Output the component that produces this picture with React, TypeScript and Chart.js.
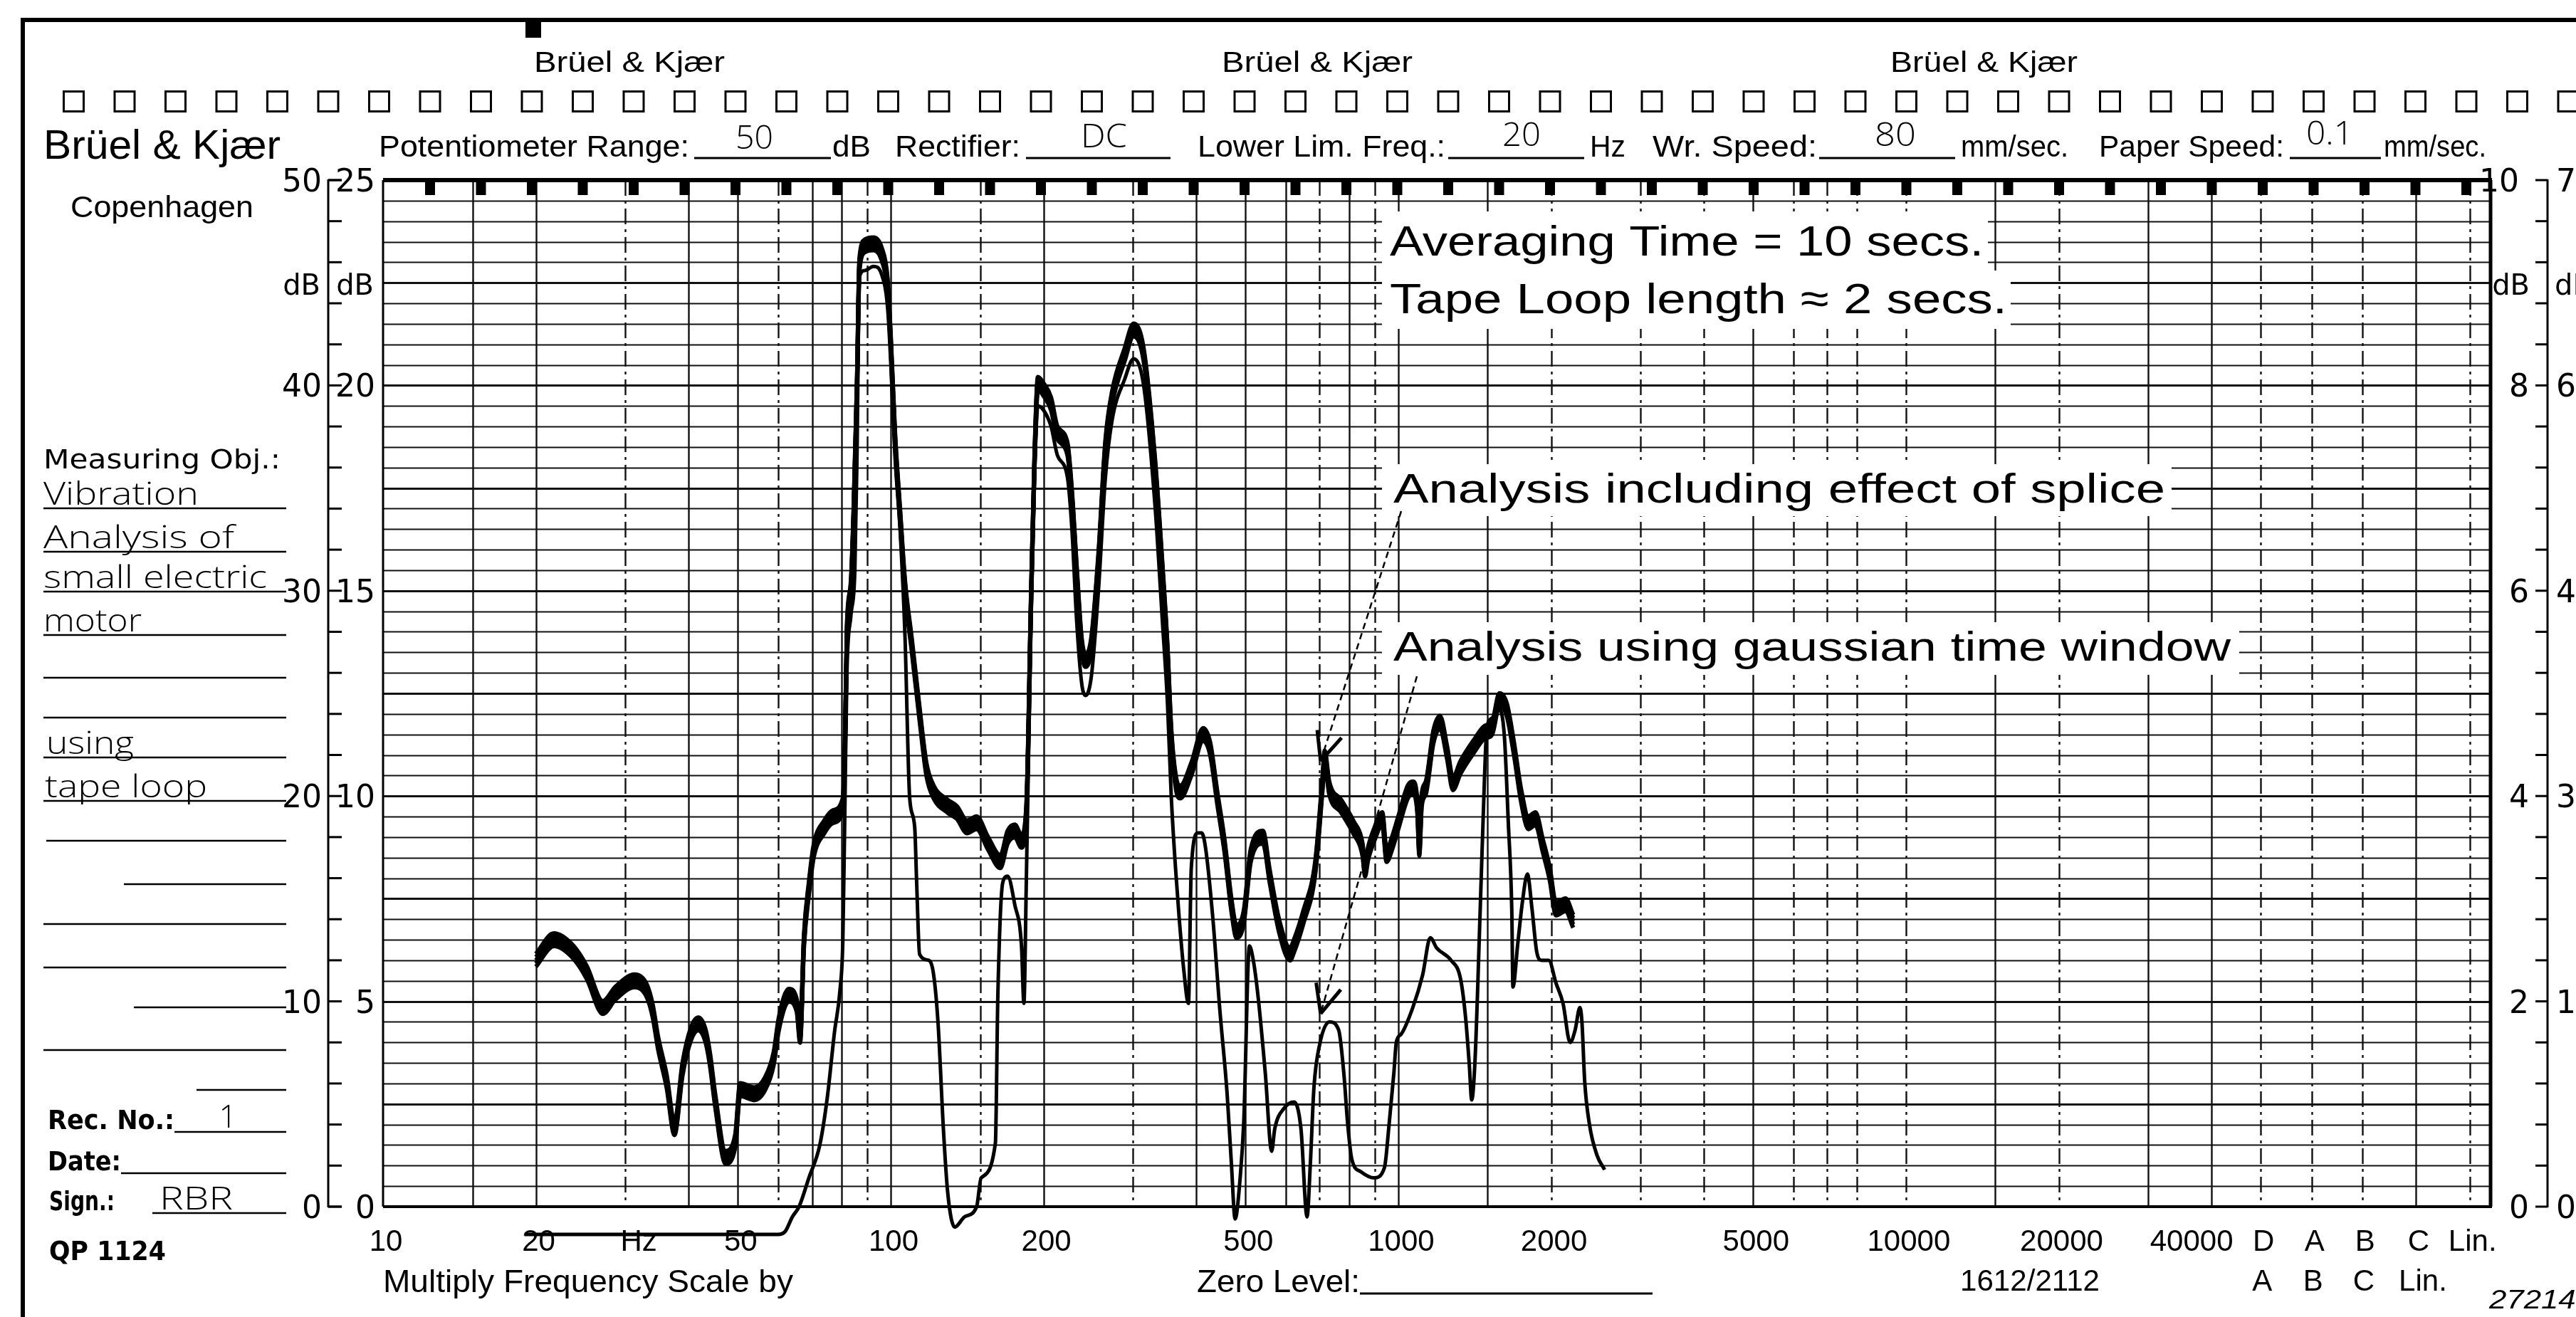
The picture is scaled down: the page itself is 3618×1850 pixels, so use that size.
import { useEffect, useRef } from 'react';
import { Chart, registerables } from 'chart.js';

Chart.register(...registerables);

const PAGE_W = 3618;
const PAGE_H = 1850;
const PLOT = { left: 538, top: 253, right: 3498, bottom: 1695 };

const FORM = '"Liberation Sans", Arial, sans-serif';
const ROUND = '"DejaVu Sans", "Liberation Sans", sans-serif';
const HAND = '"Open Sans", "DejaVu Sans", sans-serif';

// ---------- axes ----------
const X_MIN = 10;
const X_MAX = 141800;
const Y_MIN = 0;
const Y_MAX = 50;

const freqLabelValues = [10, 20, 50, 100, 200, 500, 1000, 2000, 5000, 10000, 20000, 40000];
const freqLabelText = ['10', '20', '50', '100', '200', '500', '1000', '2000', '5000', '10000', '20000', '40000'];
const weightingValues = [50000, 63000, 79250, 101000, 129000];
const weightingRow1 = ['D', 'A', 'B', 'C', 'Lin.'];
const weightingRow2 = ['A', 'B', 'C', 'Lin.'];
const gridFreqSolid = [15, 20, 40, 50, 70, 80, 100, 200, 400, 500, 600, 800, 1000, 1500, 5000, 15000, 30000, 40000, 101000];
const gridFreqDashed = [30, 60, 90, 150, 300, 700, 900, 2000, 3000, 4000, 6000, 7000, 8000, 10000, 20000, 50000, 63000, 79250, 129000];

const levelTicks = [0, 10, 20, 30, 40, 50];
const leftOuterLabels = ['0', '10', '20', '30', '40', '50'];
const leftInnerLabels = ['0', '5', '10', '15', '20', '25'];
const rightInnerLabels = ['0', '2', '4', '6', '8', '10'];
const rightOuterLabels = ['0', '15', '30', '45', '60', '75'];

// ---------- series: analysis including effect of splice ----------
const spliceFreq = [
  20, 21.7, 23.7, 25.2, 27.1, 28.7, 31.3, 33.1, 34.0, 34.8,
  36.2, 37.5, 38.9, 40.4, 41.8, 43.2, 44.1, 45.1, 47.3, 49.4,
  50.5, 53.9, 56.6, 58.8, 60.2, 63.0, 65.3, 66.3, 67.5, 69.0,
  70.5, 74.0, 77.0, 80.5, 81.3, 82.0, 83.5, 84.5, 85.8, 86.8,
  89.0, 92.5, 96.0, 98.6, 100, 102, 104.4, 106.7, 110, 114,
  117.6, 121.5, 129.5, 135, 141.4, 147.7, 155.5, 164.4, 170, 175.6,
  181, 185, 189, 192, 195, 200, 207, 213, 223, 227.5,
  232.5, 237.8, 242, 248.4, 256.6, 264.8, 273, 289, 301, 315,
  332, 343, 351, 357, 365, 372, 391, 412.6, 426, 440,
  455, 469, 480, 496, 512, 541, 558, 582, 612, 623,
  650, 686, 709, 716, 731, 772, 815, 850, 860, 872,
  896, 930, 948, 975, 1000, 1044, 1068, 1090, 1100, 1112,
  1133, 1173, 1208, 1248, 1281, 1326, 1416, 1478, 1530, 1582,
  1636, 1690, 1746, 1804, 1863, 1925, 1988, 2044, 2135, 2211,
];
const spliceDb = [
  12.0, 13.0, 12.4, 11.4, 9.7, 10.4, 11.0, 10.5, 9.5, 8.0,
  6.1, 3.8, 6.7, 8.4, 8.9, 8.3, 7.1, 5.2, 2.4, 3.2,
  5.7, 5.5, 6.0, 7.2, 8.9, 10.3, 9.8, 8.3, 13.0, 15.5,
  17.3, 18.5, 19.0, 19.6, 22.6, 28.0, 30.2, 33.6, 39.8, 45.9,
  46.8, 46.9, 46.4, 44.9, 42.2, 37.4, 33.6, 30.2, 27.4, 24.0,
  21.3, 20.2, 19.5, 19.2, 18.5, 18.7, 17.7, 16.8, 18.0, 18.3,
  17.8, 19.2, 29.5, 36.3, 40.1, 39.8, 39.1, 37.7, 36.9, 34.6,
  30.9, 27.4, 26.6, 27.4, 31.5, 37.0, 39.4, 41.5, 42.7, 41.5,
  36.0, 31.0, 27.0, 23.0, 20.6, 20.2, 21.3, 23.0, 22.3, 19.9,
  17.5, 14.7, 13.4, 14.1, 17.1, 18.0, 16.1, 13.7, 12.3, 12.7,
  14.1, 16.5, 20.6, 21.9, 20.4, 19.5, 18.5, 17.4, 16.4, 17.2,
  18.1, 18.9, 17.1, 17.8, 18.7, 20.2, 20.4, 19.5, 17.4, 19.8,
  20.4, 22.9, 23.6, 22.1, 20.6, 21.4, 22.5, 23.1, 23.3, 24.7,
  24.2, 22.3, 20.0, 18.7, 18.9, 17.6, 16.2, 14.5, 14.7, 13.9,
];

// ---------- series: analysis using gaussian time window ----------
const gaussFreq = [
  19, 60, 62, 64, 66, 69, 72.5, 75, 77.5, 79.5,
  80.5, 81.2, 82, 83.5, 85, 85.8, 86.8, 89, 92.5, 96,
  98.6, 100, 102, 104.4, 106.7, 109, 111.5, 112.5, 114, 118.8,
  121.5, 124, 127, 129.5, 133.7, 139.8, 147.7, 150.7, 160.8, 162.6,
  166.3, 170, 175.6, 181, 183, 185, 189, 192, 195, 200,
  207, 213, 223, 227.5, 232.5, 237.8, 242, 248.4, 256.6, 264.8,
  273, 289, 301, 315, 332, 343, 351, 357, 364, 370,
  378, 386, 391, 403, 410, 417, 431, 445, 460, 469,
  477, 488, 496, 509, 518, 529, 547, 563, 571, 596,
  623, 643, 661, 671, 682, 700, 732, 763, 781, 795,
  810, 844, 896, 939, 959, 980, 991, 1013, 1068, 1117,
  1156, 1190, 1270, 1326, 1357, 1380, 1395, 1416, 1450, 1478,
  1494, 1530, 1582, 1618, 1647, 1673, 1682, 1719, 1757, 1796,
  1834, 1874, 1915, 1979, 2044, 2111, 2180, 2230, 2279, 2300,
  2329, 2380, 2463, 2549,
];
const gaussDb = [
  -1.35, -1.35, -1.2, -0.5, 0, 1.4, 3.0, 5.3, 8.5, 10.6,
  13.0, 19.0, 26.0, 28.8, 31.0, 36.3, 45.3, 45.6, 45.8, 45.4,
  43.8, 41.2, 36.5, 32.9, 27.8, 19.9, 18.5, 15.8, 12.3, 12.0,
  11.3, 8.9, 3.8, 0.7, -1.0, -0.5, 0.0, 1.4, 3.1, 10.3,
  15.8, 16.1, 14.7, 12.7, 9.9, 15.8, 28.5, 35.5, 39.0, 38.8,
  38.0, 36.6, 35.5, 33.0, 28.5, 25.5, 24.9, 25.8, 30.0, 35.5,
  38.3, 40.3, 41.3, 40.0, 34.0, 28.5, 24.5, 20.0, 16.5, 14.1,
  11.5, 9.9, 16.5, 18.2, 18.2, 17.5, 14.1, 9.6, 5.5, 2.1,
  -0.6, 1.4, 4.1, 12.7, 12.0, 10.3, 6.5, 2.7, 3.8, 4.8,
  5.1, 3.8, -0.5, 2.1, 5.8, 7.9, 9.0, 8.6, 6.5, 4.0,
  2.3, 1.7, 1.4, 1.9, 4.0, 6.5, 8.0, 8.4, 9.7, 11.3,
  13.1, 12.6, 12.0, 11.1, 9.2, 6.9, 5.2, 7.1, 14.5, 20.8,
  23.3, 23.8, 24.2, 22.9, 18.7, 14.5, 10.7, 12.8, 14.9, 16.2,
  14.5, 12.4, 12.0, 12.0, 10.9, 9.9, 8.0, 8.6, 9.7, 9.0,
  6.1, 4.0, 2.5, 1.8,
];

// arrow targets (frequency, level) for the two annotations
const arrowSpliceTarget = [703, 21.7];
const arrowGaussTarget = [703, 9.4];

// ---------- drawing helpers ----------
type TxtOpts = { w?: number; align?: 'left' | 'right' | 'center'; weight?: string; italic?: boolean };

function txt(ctx: CanvasRenderingContext2D, s: string, x: number, base: number, size: number, family: string, o: TxtOpts = {}) {
  ctx.save();
  ctx.font = `${o.italic ? 'italic ' : ''}${o.weight || 'normal'} ${size}px ${family}`;
  ctx.textBaseline = 'alphabetic';
  ctx.textAlign = 'left';
  const m = ctx.measureText(s).width;
  const sx = o.w ? o.w / m : 1;
  const tw = m * sx;
  let left = x;
  if (o.align === 'center') left = x - tw / 2;
  else if (o.align === 'right') left = x - tw;
  ctx.translate(left, base);
  ctx.scale(sx, 1);
  ctx.fillStyle = '#000';
  ctx.fillText(s, 0, 0);
  ctx.restore();
}

function hl(ctx: CanvasRenderingContext2D, x1: number, x2: number, y: number, lw: number) {
  ctx.lineWidth = lw;
  ctx.beginPath();
  ctx.moveTo(x1, y);
  ctx.lineTo(x2, y);
  ctx.stroke();
}

function vl(ctx: CanvasRenderingContext2D, x: number, y1: number, y2: number, lw: number) {
  ctx.lineWidth = lw;
  ctx.beginPath();
  ctx.moveTo(x, y1);
  ctx.lineTo(x, y2);
  ctx.stroke();
}

function arrow(ctx: CanvasRenderingContext2D, x0: number, y0: number, x1: number, y1: number) {
  ctx.save();
  ctx.strokeStyle = '#000';
  ctx.lineWidth = 2.5;
  ctx.setLineDash([9, 6]);
  ctx.beginPath();
  ctx.moveTo(x0, y0);
  ctx.lineTo(x1, y1);
  ctx.stroke();
  ctx.setLineDash([]);
  const ang = Math.atan2(y0 - y1, x0 - x1);
  ctx.lineWidth = 5;
  for (const da of [-0.42, 0.42]) {
    ctx.beginPath();
    ctx.moveTo(x1, y1);
    ctx.lineTo(x1 + 44 * Math.cos(ang + da), y1 + 44 * Math.sin(ang + da));
    ctx.stroke();
  }
  ctx.restore();
}

// ---------- plugins ----------
const paperPlugin = {
  id: 'paper',
  beforeDraw(chart: any) {
    const ctx: CanvasRenderingContext2D = chart.ctx;
    const xs = chart.scales.x;
    const ys = chart.scales.y;
    ctx.save();
    ctx.fillStyle = '#fff';
    ctx.fillRect(0, 0, PAGE_W, PAGE_H);
    ctx.fillStyle = '#000';
    ctx.strokeStyle = '#000';

    // page frame
    ctx.fillRect(29, 25, PAGE_W - 29, 6);
    ctx.fillRect(29, 25, 6, PAGE_H - 25);
    ctx.fillRect(738, 31, 22, 22);

    // small logos
    txt(ctx, 'Brüel & Kjær', 750, 101, 40, FORM, { w: 268 });
    txt(ctx, 'Brüel & Kjær', 1716, 101, 40, FORM, { w: 268 });
    txt(ctx, 'Brüel & Kjær', 2655, 101, 40, FORM, { w: 263 });

    // sprocket squares
    ctx.lineWidth = 3;
    for (let i = 0; i < 50; i++) ctx.strokeRect(88 + 71.5 * i + 1.5, 128.5, 28, 28);

    // header
    txt(ctx, 'Brüel & Kjær', 61, 223, 58, FORM, { w: 333 });
    txt(ctx, 'Copenhagen', 99, 305, 42, FORM, { w: 257 });
    txt(ctx, 'Potentiometer Range:', 532, 220, 42, FORM, { w: 436 });
    txt(ctx, 'dB', 1169, 220, 42, FORM, { w: 54 });
    txt(ctx, 'Rectifier:', 1257, 220, 42, FORM, { w: 176 });
    txt(ctx, 'Lower Lim. Freq.:', 1682, 220, 42, FORM, { w: 348 });
    txt(ctx, 'Hz', 2233, 220, 42, FORM, { w: 50 });
    txt(ctx, 'Wr. Speed:', 2321, 220, 42, FORM, { w: 231 });
    txt(ctx, 'mm/sec.', 2754, 220, 42, FORM, { w: 151 });
    txt(ctx, 'Paper Speed:', 2948, 220, 42, FORM, { w: 260 });
    txt(ctx, 'mm/sec.', 3348, 220, 42, FORM, { w: 144 });
    ctx.strokeStyle = '#000';
    hl(ctx, 975, 1167, 222, 3);
    hl(ctx, 1441, 1644, 222, 3);
    hl(ctx, 2034, 2225, 222, 3);
    hl(ctx, 2555, 2746, 222, 3);
    hl(ctx, 3216, 3344, 222, 3);
    txt(ctx, '50', 1033, 209, 46, HAND, { w: 53, weight: '300' });
    txt(ctx, 'DC', 1518, 207, 46, HAND, { w: 65, weight: '300' });
    txt(ctx, '20', 2110, 205, 46, HAND, { w: 54, weight: '300' });
    txt(ctx, '80', 2633, 205, 46, HAND, { w: 58, weight: '300' });
    txt(ctx, '0.1', 3239, 203, 46, HAND, { w: 66, weight: '300' });

    // left record panel
    txt(ctx, 'Measuring Obj.:', 61, 658, 38, ROUND, { w: 333 });
    const ruled = [714, 775, 831, 892, 952, 1008, 1064, 1125, 1181, 1242, 1298, 1359, 1415, 1475, 1531];
    const ruledStart = [61, 61, 61, 61, 61, 61, 61, 61, 65, 174, 61, 61, 188, 61, 276];
    for (let i = 0; i < ruled.length; i++) hl(ctx, ruledStart[i], 402, ruled[i], 2.5);
    txt(ctx, 'Vibration', 61, 709, 44, HAND, { w: 218, weight: '300' });
    txt(ctx, 'Analysis of', 61, 770, 44, HAND, { w: 268, weight: '300' });
    txt(ctx, 'small electric', 61, 826, 44, HAND, { w: 314, weight: '300' });
    txt(ctx, 'motor', 61, 887, 44, HAND, { w: 138, weight: '300' });
    txt(ctx, 'using', 65, 1059, 44, HAND, { w: 123, weight: '300' });
    txt(ctx, 'tape loop', 63, 1120, 44, HAND, { w: 228, weight: '300' });
    txt(ctx, 'Rec. No.:', 67, 1586, 38, ROUND, { w: 178, weight: 'bold' });
    hl(ctx, 245, 402, 1590, 2.5);
    txt(ctx, '1', 320, 1584, 44, HAND, { align: 'center', weight: '300' });
    txt(ctx, 'Date:', 67, 1644, 38, ROUND, { w: 103, weight: 'bold' });
    hl(ctx, 170, 402, 1648, 2.5);
    txt(ctx, 'Sign.:', 69, 1700, 38, ROUND, { w: 92, weight: 'bold' });
    txt(ctx, 'RBR', 224, 1699, 44, HAND, { w: 103, weight: '300' });
    hl(ctx, 214, 402, 1704, 2.5);
    txt(ctx, 'QP 1124', 69, 1770, 38, ROUND, { w: 164, weight: 'bold' });

    // left dual level scale
    const top = ys.getPixelForValue(Y_MAX);
    const bot = ys.getPixelForValue(Y_MIN);
    vl(ctx, 461, top - 1, bot + 1, 3);
    for (let d = 0; d <= 50; d += 2) hl(ctx, 461, 480, ys.getPixelForValue(d), 3);
    hl(ctx, 461, 480, top, 3);
    hl(ctx, 461, 480, bot, 3);
    for (let i = 0; i < levelTicks.length; i++) {
      const py = ys.getPixelForValue(levelTicks[i]) + 16;
      txt(ctx, leftOuterLabels[i], 452, py, 44, ROUND, { align: 'right' });
      txt(ctx, leftInnerLabels[i], 527, py, 44, ROUND, { align: 'right' });
    }
    txt(ctx, 'dB', 450, 414, 40, ROUND, { align: 'right' });
    txt(ctx, 'dB', 525, 414, 40, ROUND, { align: 'right' });

    // right dual scale
    vl(ctx, 3578, top - 1, bot + 1, 3);
    for (let d = 0; d <= 50; d += 2) hl(ctx, 3561, 3578, ys.getPixelForValue(d), 3);
    for (let i = 0; i < levelTicks.length; i++) {
      const py = ys.getPixelForValue(levelTicks[i]) + 16;
      txt(ctx, rightInnerLabels[i], i === 5 ? 3538 : 3552, py, 44, ROUND, { align: 'right' });
      txt(ctx, rightOuterLabels[i], 3590, py, 44, ROUND);
    }
    txt(ctx, 'dB', 3553, 414, 40, ROUND, { align: 'right' });
    txt(ctx, 'dB', 3588, 414, 40, ROUND);

    // frequency labels
    for (let i = 0; i < freqLabelValues.length; i++) {
      const px = xs.getPixelForValue(freqLabelValues[i]) + (i === freqLabelValues.length - 1 ? -28 : 4);
      txt(ctx, freqLabelText[i], px, 1757, 42, FORM, { align: 'center' });
    }
    txt(ctx, 'Hz', xs.getPixelForValue(30) + 19, 1757, 42, FORM, { align: 'center' });
    for (let i = 0; i < weightingRow1.length; i++) {
      txt(ctx, weightingRow1[i], xs.getPixelForValue(weightingValues[i]) + 4, 1757, 42, FORM, { align: 'center' });
    }
    for (let i = 0; i < weightingRow2.length; i++) {
      const extra = i === weightingRow2.length - 1 ? 10 : 2;
      txt(ctx, weightingRow2[i], xs.getPixelForValue(weightingValues[i]) + extra, 1813, 42, FORM, { align: 'center' });
    }
    txt(ctx, 'Multiply Frequency Scale by', 538, 1815, 44, FORM, { w: 576 });
    txt(ctx, 'Zero Level:', 1681, 1815, 44, FORM, { w: 229 });
    hl(ctx, 1910, 2321, 1817, 3);
    txt(ctx, '1612/2112', 2753, 1813, 42, FORM, { w: 196 });
    txt(ctx, '272144', 3496, 1838, 36, FORM, { w: 146, italic: true });
    ctx.restore();
  },
  beforeDatasetsDraw(chart: any) {
    const ctx: CanvasRenderingContext2D = chart.ctx;
    const a = chart.chartArea;
    const xs = chart.scales.x;
    const ys = chart.scales.y;
    ctx.save();
    ctx.strokeStyle = '#111';
    for (let d = Y_MIN + 1; d < Y_MAX; d++) {
      const py = Math.round(ys.getPixelForValue(d)) + 0.5;
      hl(ctx, a.left, a.right, py, d % 5 === 0 ? 3.2 : 2.2);
    }
    for (const f of gridFreqSolid) vl(ctx, Math.round(xs.getPixelForValue(f)) + 0.5, a.top, a.bottom, 2.4);
    ctx.setLineDash([22, 7, 4, 7]);
    for (const f of gridFreqDashed) vl(ctx, Math.round(xs.getPixelForValue(f)) + 0.5, a.top, a.bottom, 2.4);
    ctx.setLineDash([]);
    ctx.strokeStyle = '#000';
    hl(ctx, a.left, a.right + 2, a.top, 6);
    hl(ctx, a.left, a.right + 2, a.bottom, 4);
    vl(ctx, a.left, a.top, a.bottom, 3);
    vl(ctx, a.right, a.top, a.bottom, 5);
    ctx.fillStyle = '#000';
    for (let j = 0; j <= 40; j++) ctx.fillRect(604 + 71.5 * j - 7, a.top, 14, 21);
    ctx.restore();
  },
  afterDatasetsDraw(chart: any) {
    const ctx: CanvasRenderingContext2D = chart.ctx;
    const xs = chart.scales.x;
    const ys = chart.scales.y;
    ctx.save();
    ctx.fillStyle = '#fff';
    ctx.fillRect(1941, 297, 851, 84);
    ctx.fillRect(1941, 380, 883, 82);
    ctx.fillRect(1941, 652, 1109, 73);
    ctx.fillRect(1941, 874, 1204, 74);
    txt(ctx, 'Averaging Time = 10 secs.', 1952, 359, 60, FORM, { w: 834 });
    txt(ctx, 'Tape Loop length \u2248 2 secs.', 1952, 440, 60, FORM, { w: 867 });
    txt(ctx, 'Analysis including effect of splice', 1957, 706, 57, FORM, { w: 1084 });
    txt(ctx, 'Analysis using gaussian time window', 1957, 928, 57, FORM, { w: 1176 });
    arrow(ctx, 1968, 718, xs.getPixelForValue(arrowSpliceTarget[0]), ys.getPixelForValue(arrowSpliceTarget[1]));
    arrow(ctx, 1990, 950, xs.getPixelForValue(arrowGaussTarget[0]), ys.getPixelForValue(arrowGaussTarget[1]));
    ctx.restore();
  },
};

const penBandPlugin = {
  id: 'penBand',
  beforeDatasetDraw(chart: any, args: any) {
    const ds = chart.data.datasets[args.index];
    const offs: number[] | undefined = ds.bandOffsets;
    if (!offs) return;
    const ctx: CanvasRenderingContext2D = chart.ctx;
    for (const dy of offs) {
      ctx.save();
      ctx.translate(0, dy);
      args.meta.controller.draw();
      ctx.restore();
    }
  },
};

export default function App() {
  const ref = useRef<HTMLCanvasElement>(null);
  useEffect(() => {
    const canvas = ref.current;
    if (!canvas) return;
    const chart = new Chart(canvas, {
      type: 'line',
      data: {
        datasets: [
          {
            label: 'Analysis including effect of splice',
            data: spliceFreq.map((f, i) => ({ x: f, y: spliceDb[i] })),
            borderColor: '#000',
            borderWidth: 6,
            pointRadius: 0,
            cubicInterpolationMode: 'monotone',
            clip: false,
            bandOffsets: [-9, -4.5, 4.5, 9],
          } as any,
          {
            label: 'Analysis using gaussian time window',
            data: gaussFreq.map((f, i) => ({ x: f, y: gaussDb[i] })),
            borderColor: '#000',
            borderWidth: 5,
            pointRadius: 0,
            cubicInterpolationMode: 'monotone',
            clip: false,
          } as any,
        ],
      },
      options: {
        responsive: false,
        maintainAspectRatio: false,
        devicePixelRatio: 1,
        animation: false,
        events: [],
        layout: {
          padding: {
            left: PLOT.left,
            right: PAGE_W - PLOT.right,
            top: PLOT.top,
            bottom: PAGE_H - PLOT.bottom,
          },
        },
        scales: {
          x: { type: 'logarithmic', min: X_MIN, max: X_MAX, display: false },
          y: { type: 'linear', min: Y_MIN, max: Y_MAX, display: false },
        },
        plugins: {
          legend: { display: false },
          tooltip: { enabled: false },
        },
      },
      plugins: [paperPlugin, penBandPlugin],
    } as any);
    return () => chart.destroy();
  }, []);
  return (
    <div style={{ position: 'fixed', left: 0, top: 0, width: PAGE_W, height: PAGE_H, background: '#fff', overflow: 'hidden' }}>
      <canvas ref={ref} width={PAGE_W} height={PAGE_H} style={{ display: 'block', width: PAGE_W, height: PAGE_H }} />
    </div>
  );
}
